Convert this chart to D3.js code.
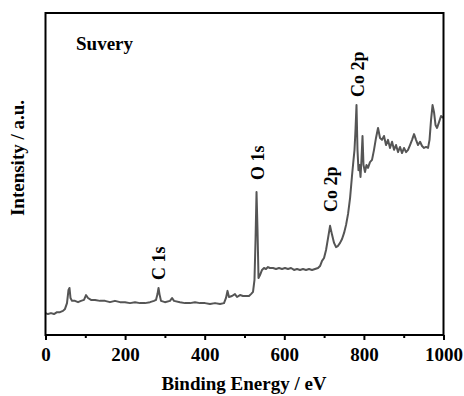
<!DOCTYPE html>
<html>
<head>
<meta charset="utf-8">
<script src="https://cdn.jsdelivr.net/npm/d3@7"></script>
<style>
html,body{margin:0;padding:0;background:#fff;}
svg{display:block;}
text{font-family:"Liberation Serif","Times New Roman",serif;font-weight:bold;fill:#000;}
</style>
</head>
<body>
<script>
// Binding energy (eV)
const energy = [0,6.3,13.8,21.4,28.9,36.4,44,49,54,57.8,60.3,62.8,66.6,74,81.7,89.2,96.7,101.8,106.8,114.3,124.4,137,149.5,162,174.6,187.2,199.7,212.3,224.9,237.4,250,262.6,272.6,277.6,281.4,284,286.4,290.2,300,312.8,318,322.9,337.9,350.5,363,375.6,388.2,400.8,413.3,425.9,438.5,448.5,453.5,457.3,461,468.6,476,481.2,488.7,496.2,503.8,511.3,516.3,521.4,525.1,527.7,530.2,532.7,535.2,539,544,549,554,559,564,571.6,579.2,586.7,594.2,601.8,609.3,616.9,624.4,632,639.5,647,654.6,662.1,669.7,677.2,684.7,689.8,694.8,699.8,704.9,709.9,715,720,725,730,735.1,740.1,745.1,750.2,755.2,760.2,765.3,770.3,773.9,776.4,778.9,781.4,783.9,786.4,789,791.5,794,796.5,799,802.8,806.5,810.3,815.3,820.4,825.4,830.4,835.5,840.5,845.5,850.5,855.6,860.6,865.6,870.7,875.7,880.7,885.7,890.8,895.8,900.8,905.9,910.9,915.9,921,926,931,936,941.1,946.1,951.1,956.2,961.2,964.9,968.7,972.5,976.2,980,983.8,988.8,993.8,1000];
// Intensity (a.u.)
const intensity = [6.8,6.5,6.8,6.5,7.1,7.1,7.5,8.1,9.9,14.0,14.6,11.5,10.6,10.6,10.2,10.6,10.9,12.4,11.5,10.9,10.9,10.6,10.6,10.2,10.6,10.2,10.2,9.9,10.2,9.9,9.9,10.2,10.6,10.9,12.7,14.6,12.7,10.6,10.2,10.6,11.5,10.6,10.2,9.9,9.9,10.2,9.9,9.9,9.6,9.9,9.6,9.9,11.5,13.7,11.8,12.1,12.7,11.8,12.4,12.1,12.1,12.1,12.7,13.4,17.1,29.5,44.4,32.6,17.7,18.6,20.2,20.8,20.5,21.1,20.8,20.8,20.5,20.8,20.5,20.8,20.5,20.8,20.2,20.5,20.2,20.5,20.2,20.5,20.2,20.5,20.8,21.4,23.0,23.9,26.4,30.1,33.9,31.1,28.6,27.3,27.7,28.6,29.8,31.7,34.2,37.6,42.6,49.7,54.4,57.5,63.7,71.4,57.5,51.2,52.8,49.1,54.7,61.8,52.8,50.6,52.8,51.9,53.7,54.4,57.5,61.2,64.3,61.2,60.6,61.8,59.0,60.6,58.1,60.0,57.5,59.0,56.8,58.4,56.5,58.1,56.8,57.5,59.0,60.6,62.4,60.6,59.0,60.0,58.7,58.1,58.4,58.1,60.6,66.8,71.4,69.2,65.2,64.3,66.1,68.0,67.4];
const xTicks = [0,200,400,600,800,1000];
const xMinorTicks = [100,300,500,700,900];
const peakLabels = ["C 1s","O 1s","Co 2p","Co 2p"];
const peakEnergy = [281,531,715,781.4];
const peakLabelIntensity = [17.1,48.1,38.2,73.9];
const title = "Suvery";
const xLabel = "Binding Energy / eV";
const yLabel = "Intensity / a.u.";

const W = 464, H = 396;
const m = {left:45.5, right:20.5, top:13, bottom:61};
const svg = d3.select("body").append("svg").attr("width",W).attr("height",H);
const x = d3.scaleLinear().domain([0,1000]).range([m.left, W-m.right]);
const y = d3.scaleLinear().domain([0,100]).range([H-m.bottom, m.top]);

// line
const data = energy.map((e,i)=>({e, v:intensity[i]}));
svg.append("path").datum(data)
  .attr("fill","none").attr("stroke","#555").attr("stroke-width",2)
  .attr("stroke-linejoin","round")
  .attr("d", d3.line().x(d=>x(d.e)).y(d=>y(d.v)));

// frame
svg.append("rect").attr("x",m.left).attr("y",m.top)
  .attr("width",W-m.left-m.right).attr("height",H-m.top-m.bottom)
  .attr("fill","none").attr("stroke","#000").attr("stroke-width",2);

// x axis
const gx = svg.append("g").attr("transform",`translate(0,${H-m.bottom})`)
  .call(d3.axisBottom(x).tickValues(xTicks).tickFormat(d3.format("d")).tickSize(5).tickPadding(8));
gx.select(".domain").remove();
gx.selectAll("line").attr("stroke","#000").attr("stroke-width",2);
gx.selectAll("text").style("font-size","19px").style("font-family","'Liberation Serif',serif").style("font-weight","bold");
const gm = svg.append("g").attr("transform",`translate(0,${H-m.bottom})`)
  .call(d3.axisBottom(x).tickValues(xMinorTicks).tickFormat("").tickSize(3));
gm.select(".domain").remove();
gm.selectAll("line").attr("stroke","#000").attr("stroke-width",2);

// peak labels
peakLabels.forEach((t,i)=>{
  svg.append("text")
    .attr("transform",`translate(${x(peakEnergy[i])+1},${y(peakLabelIntensity[i])}) rotate(-90)`)
    .attr("dy","0.35em")
    .style("font-size","18px")
    .text(t);
});

// title
svg.append("text").attr("x",76).attr("y",50).style("font-size","19px").text(title);

// axis labels
svg.append("text").attr("x",244).attr("y",390)
  .attr("text-anchor","middle").style("font-size","19px").text(xLabel);
svg.append("text").attr("transform",`translate(24,158) rotate(-90)`)
  .attr("text-anchor","middle").style("font-size","19px").text(yLabel);
</script>
</body>
</html>
